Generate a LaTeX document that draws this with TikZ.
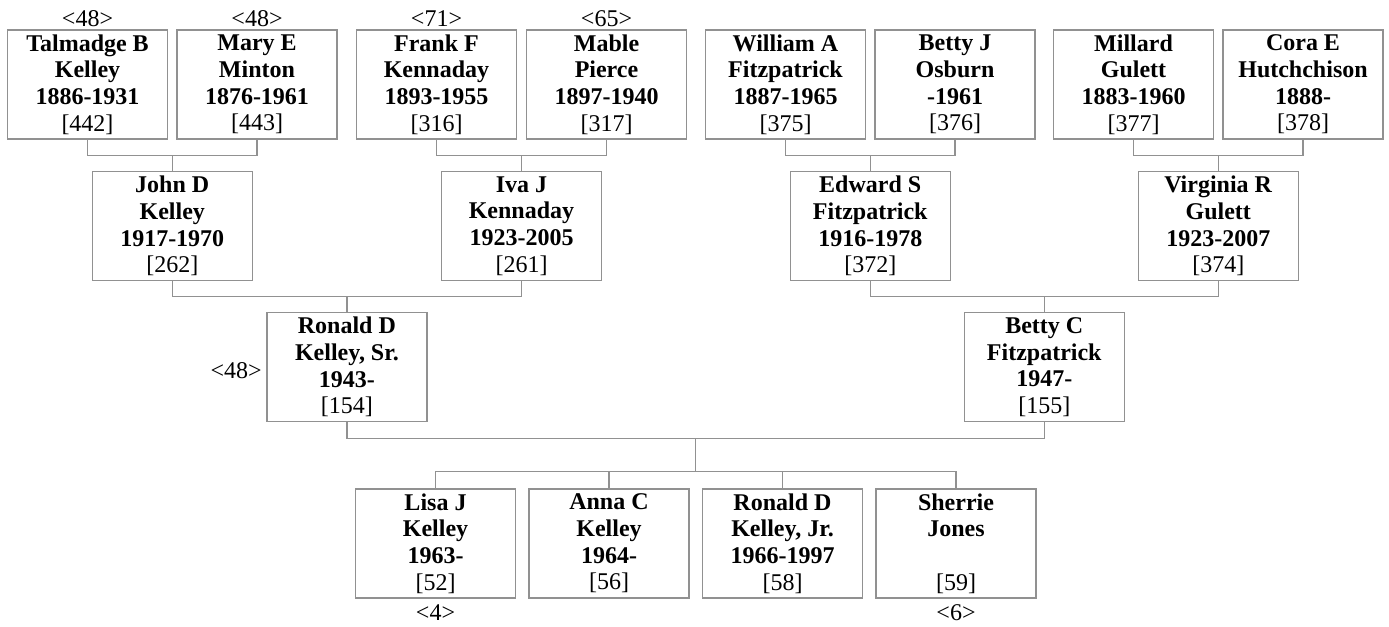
\documentclass[tikz,border=0pt]{standalone}
\usepackage{fontspec}
\setmainfont{Liberation Serif}
\usetikzlibrary{calc}
\definecolor{linegray}{RGB}{145,145,145}
\newcommand{\pers}[4]{\textbf{#1}\\\textbf{#2}\\\textbf{#3}\strut\\{[#4]}}
\begin{document}
\begin{tikzpicture}[x=0.75pt,y=-0.75pt,
  pbox/.style={draw=linegray, line width=0.9pt, minimum width=120pt, minimum height=81.75pt,
    inner sep=0pt, align=center, font=\fontsize{18}{20}\selectfont, anchor=center},
  conn/.style={draw=linegray, line width=0.9pt},
  tag/.style={font=\fontsize{18}{20}\selectfont, inner sep=0pt}]
\useasboundingbox (0,0) rectangle (1389,626);
% generation 1
\node[pbox] (t1) at (87.5,84.5) {\pers{Talmadge B}{Kelley}{1886-1931}{442}};
\node[pbox] (t2) at (257,84.5) {\pers{Mary E}{Minton}{1876-1961}{443}};
\node[pbox] (t3) at (436.5,84.5) {\pers{Frank F}{Kennaday}{1893-1955}{316}};
\node[pbox] (t4) at (606.5,84.5) {\pers{Mable}{Pierce}{1897-1940}{317}};
\node[pbox] (t5) at (785.5,84.5) {\pers{William A}{Fitzpatrick}{1887-1965}{375}};
\node[pbox] (t6) at (955,84.5) {\pers{Betty J}{Osburn}{-1961}{376}};
\node[pbox] (t7) at (1133.5,84.5) {\pers{Millard}{Gulett}{1883-1960}{377}};
\node[pbox] (t8) at (1303,84.5) {\pers{Cora E}{Hutchchison}{1888-}{378}};
% generation 2
\node[pbox] (p1) at (172.25,226) {\pers{John D}{Kelley}{1917-1970}{262}};
\node[pbox] (p2) at (521.5,226) {\pers{Iva J}{Kennaday}{1923-2005}{261}};
\node[pbox] (p3) at (870.25,226) {\pers{Edward S}{Fitzpatrick}{1916-1978}{372}};
\node[pbox] (p4) at (1218.25,226) {\pers{Virginia R}{Gulett}{1923-2007}{374}};
% generation 3
\node[pbox] (r) at (346.9,367) {\pers{Ronald D}{Kelley, Sr.}{1943-}{154}};
\node[pbox] (bc) at (1044.25,367) {\pers{Betty C}{Fitzpatrick}{1947-}{155}};
% generation 4
\node[pbox] (c1) at (435.5,543.5) {\pers{Lisa J}{Kelley}{1963-}{52}};
\node[pbox] (c2) at (609,543.5) {\pers{Anna C}{Kelley}{1964-}{56}};
\node[pbox] (c3) at (782.5,543.5) {\pers{Ronald D}{Kelley, Jr.}{1966-1997}{58}};
\node[pbox] (c4) at (956,543.5) {\pers{Sherrie}{Jones}{}{59}};
% labels
\node[tag, anchor=base] (l1) at (87.5,26) {<48>};
\node[tag, anchor=base] (l2) at (257,26) {<48>};
\node[tag, anchor=base] (l3) at (436.5,26) {<71>};
\node[tag, anchor=base] (l4) at (606.5,26) {<65>};
\node[tag, anchor=base east] (l5) at (262,378) {<48>};
\node[tag, anchor=base] (l6) at (435.5,620) {<4>};
\node[tag, anchor=base] (l7) at (956,620) {<6>};
% connectors gen1 -> gen2
\draw[conn] (t1.south) -- ++(0,16) coordinate (b1) -| (t2.south);
\draw[conn] (p1.north) -- (p1.north |- b1);
\draw[conn] (t3.south) -- ++(0,16) coordinate (b2) -| (t4.south);
\draw[conn] (p2.north) -- (p2.north |- b2);
\draw[conn] (t5.south) -- ++(0,16) coordinate (b3) -| (t6.south);
\draw[conn] (p3.north) -- (p3.north |- b3);
\draw[conn] (t7.south) -- ++(0,16) coordinate (b4) -| (t8.south);
\draw[conn] (p4.north) -- (p4.north |- b4);
% gen2 -> gen3
\draw[conn] (p1.south) -- ++(0,15.5) coordinate (b5) -| (p2.south);
\draw[conn] (r.north) -- (r.north |- b5);
\draw[conn] (p3.south) -- ++(0,15.5) coordinate (b6) -| (p4.south);
\draw[conn] (bc.north) -- (bc.north |- b6);
% gen3 -> gen4
\draw[conn] (r.south) -- ++(0,16) -| (bc.south);
\coordinate (mid) at ($(r.south)!0.5!(bc.south)+(0,16)$);
\coordinate (cb) at ($(c1.north)+(0,-17)$);
\draw[conn] (mid) -- (mid |- cb);
\draw[conn] (c1.north) -- (cb) -| (c4.north);
\draw[conn] (c2.north) -- (c2.north |- cb);
\draw[conn] (c3.north) -- (c3.north |- cb);
\end{tikzpicture}
\end{document}
